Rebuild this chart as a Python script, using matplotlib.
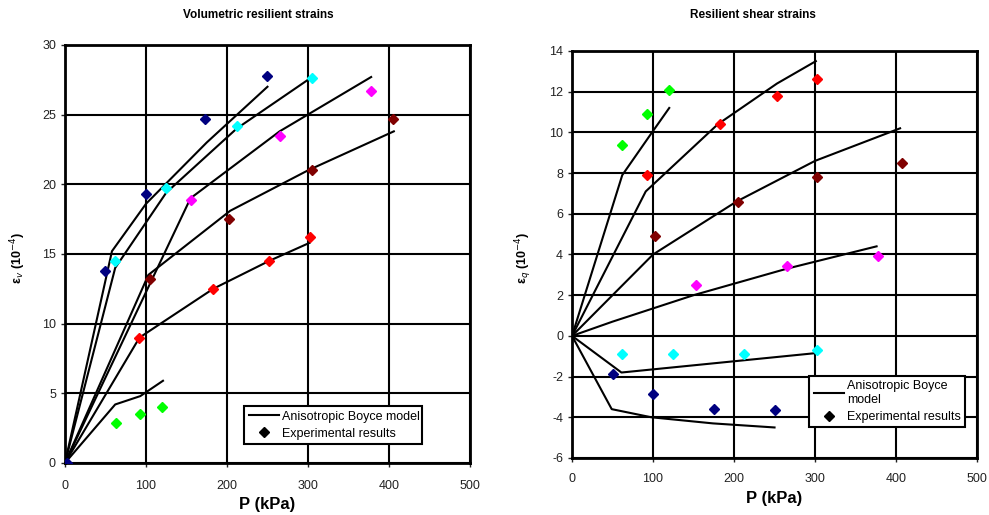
import matplotlib
matplotlib.use("Agg")
import matplotlib.pyplot as plt
from matplotlib.lines import Line2D

plt.rcParams["font.family"] = ["Liberation Sans", "DejaVu Sans"]
plt.rcParams["axes.unicode_minus"] = False

# colours of the test series (same order in both panels)
colors = ["#000080", "#00ffff", "#ff00ff", "#800000", "#ff0000", "#00ff00"]

# ---- volumetric resilient strains (10^-4) ----
vol_exp_p = [[2, 50, 100, 173, 250], [62, 125, 212, 305], [155, 265, 378],
             [105, 202, 305, 405], [92, 183, 252, 303], [63, 93, 120]]
vol_exp_v = [[0.0, 13.8, 19.3, 24.7, 27.8], [14.5, 19.7, 24.2, 27.6], [18.9, 23.5, 26.7],
             [13.2, 17.5, 21.0, 24.7], [9.0, 12.5, 14.5, 16.2], [2.9, 3.5, 4.0]]
vol_mod_p = [[0, 58, 100, 175, 250], [0, 62, 125, 212, 300], [0, 155, 265, 378],
             [0, 103, 204, 300, 406], [0, 92, 183, 252, 302], [0, 62, 93, 121]]
vol_mod_v = [[0, 15.2, 18.6, 23.0, 27.0], [0, 14.0, 19.4, 24.0, 27.5], [0, 19.0, 23.8, 27.7],
             [0, 13.5, 18.1, 21.0, 23.8], [0, 9.0, 12.5, 14.5, 15.8], [0, 4.2, 4.8, 5.9]]

# ---- resilient shear strains (10^-4) ----
sh_exp_p = [[50, 100, 175, 250], [62, 125, 212, 302], [153, 265, 378],
            [103, 205, 302, 407], [92, 183, 253, 302], [62, 92, 120]]
sh_exp_q = [[-1.85, -2.85, -3.6, -3.65], [-0.9, -0.9, -0.9, -0.7], [2.5, 3.45, 3.95],
            [4.9, 6.6, 7.8, 8.5], [7.9, 10.4, 11.8, 12.6], [9.4, 10.9, 12.1]]
sh_mod_p = [[0, 49, 98, 174, 250], [0, 61, 300], [0, 50, 150, 265, 376],
            [0, 100, 203, 300, 405], [0, 91, 180, 253, 301], [0, 62, 97, 120]]
sh_mod_q = [[0, -3.6, -4.0, -4.3, -4.5], [0, -1.8, -0.85], [0, 0.7, 2.0, 3.3, 4.4],
            [0, 4.0, 6.6, 8.6, 10.2], [0, 7.1, 10.4, 12.4, 13.5], [0, 7.9, 9.9, 11.2]]

fig = plt.figure(figsize=(9.89, 5.15), dpi=100)
fig.patch.set_facecolor("white")
ax1 = fig.add_axes([0.0657, 0.101, 0.4095, 0.8117])
ax2 = fig.add_axes([0.5784, 0.1107, 0.4095, 0.7903])


def draw(ax, mp, mv, ep, ev, ylim, yticks, legend_label, legend_box, xpad):
    for p, v in zip(mp, mv):
        ax.plot(p, v, color="black", lw=1.5, zorder=3)
    for p, v, c in zip(ep, ev, colors):
        ax.plot(p, v, ls="none", marker="D", ms=4.6, color=c, mec=c, zorder=4)
    ax.set_xlim(0, 500)
    ax.set_ylim(*ylim)
    ax.set_xticks(range(0, 501, 100))
    ax.set_yticks(yticks)
    ax.grid(True, color="black", lw=1.5)
    ax.set_axisbelow(True)
    for s in ax.spines.values():
        s.set_linewidth(2)
    ax.tick_params(labelsize=9, length=3, width=1, colors="#222222")
    ax.tick_params(axis="x", pad=xpad)
    ax.set_xlabel("P (kPa)", fontsize=12, fontweight="bold", labelpad=4)
    handles = [Line2D([], [], color="black", lw=1.5),
               Line2D([], [], ls="none", marker="D", ms=4.6, color="black")]
    leg = ax.legend(handles, [legend_label, "Experimental results"],
                    loc="lower left", bbox_to_anchor=legend_box, mode="expand",
                    fontsize=9, frameon=True, fancybox=False, framealpha=1,
                    edgecolor="black", borderpad=0.35, handlelength=2.4,
                    handletextpad=0.3, labelspacing=0.4)
    leg.get_frame().set_linewidth(1.5)


draw(ax1, vol_mod_p, vol_mod_v, vol_exp_p, vol_exp_v, (0, 30), range(0, 31, 5),
     "Anisotropic Boyce model", (0.427, 0.03, 0.47, 0.09), 9)
draw(ax2, sh_mod_p, sh_mod_q, sh_exp_p, sh_exp_q, (-6, 14), range(-6, 15, 2),
     "Anisotropic Boyce\nmodel", (0.57, 0.06, 0.415, 0.12), 8)

fig.text(0.261, 0.970, "Volumetric resilient strains", ha="center", va="center",
         fontsize=8.5, fontweight="bold")
fig.text(0.761, 0.970, "Resilient shear strains", ha="center", va="center",
         fontsize=8.5, fontweight="bold")

# y-axis labels (symbol-font glyphs in the original)
fig.text(0.018, 0.50, "ε$_v$ (10$^{-4}$)", rotation=90, ha="center", va="center",
         fontsize=9, fontweight="bold")
fig.text(0.530, 0.50, "ε$_q$ (10$^{-4}$)", rotation=90, ha="center", va="center",
         fontsize=9, fontweight="bold")

fig.savefig("out.png", dpi=100)
